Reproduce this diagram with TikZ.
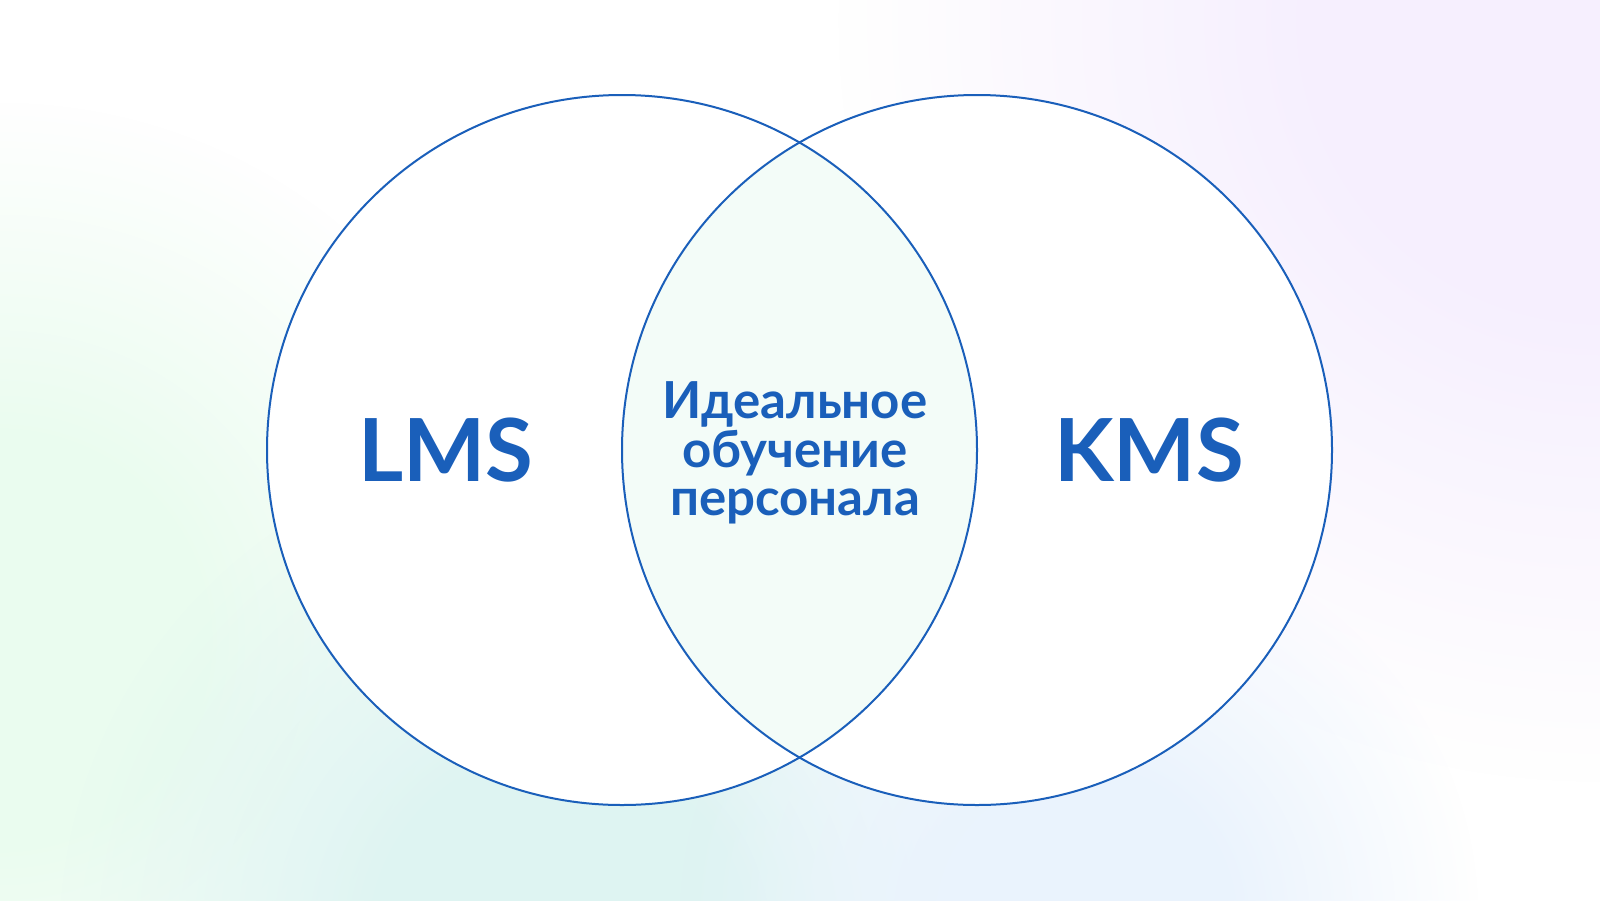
\documentclass[tikz,border=0pt]{standalone}
\usepackage{fontspec}
\setmainfont{Lato}
\usetikzlibrary{fadings}
\definecolor{vennblue}{HTML}{1A5FBA}
\definecolor{lensgreen}{HTML}{F3FCF8}
\definecolor{bggreen}{HTML}{EAFCEF}
\definecolor{bgteal}{HTML}{DEF4F2}
\definecolor{bgblue}{HTML}{EAF3FD}
\definecolor{bgpurple}{HTML}{F6EFFE}
\pgfdeclareradialshading{softshade}{\pgfpointorigin}{color(0bp)=(transparent!0); color(9bp)=(transparent!0); color(25bp)=(transparent!100); color(50bp)=(transparent!100)}
\tikzfading[name=softblob, shading=softshade]
\begin{document}
\begin{tikzpicture}[x=1pt, y=-1pt,
	vennline/.style={vennblue, line width=2},
	blob/.style={path fading=softblob},
	bigtext/.style={text=vennblue, inner sep=0, font=\bfseries\fontsize{87}{87}\selectfont},
	midtext/.style={text=vennblue, inner sep=0, align=center, font=\bfseries\fontsize{51}{48.5}\selectfont}]
	\useasboundingbox (0,0) rectangle (1600,900);
	%draw background
	\fill[white] (0,0) rectangle (1600,900);
	\fill[bggreen, blob] (0,640) circle (540);
	\fill[bgteal, blob] (560,940) circle (500);
	\fill[bgblue, blob] (1080,920) circle (400);
	\fill[bgpurple, blob] (1600,20) circle (760);
	%draw circles
	\fill[white] (622,450) circle (355);
	\fill[white] (977,450) circle (355);
	\begin{scope}
		\clip (622,450) circle (355);
		\fill[lensgreen] (977,450) circle (355);
	\end{scope}
	\draw[vennline] (622,450) circle (355);
	\draw[vennline] (977,450) circle (355);
	%draw labels
	\node[bigtext, anchor=base] (lms) at (446,481) {LMS};
	\node[bigtext, anchor=base] (kms) at (1149,481) {KMS};
	\node[midtext] (ideal) at (795,453) {Идеальное\\обучение\\персонала};
\end{tikzpicture}
\end{document}
